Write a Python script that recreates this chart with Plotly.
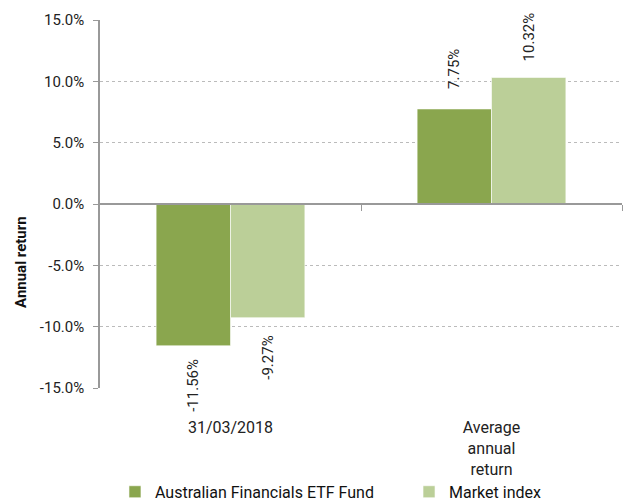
import plotly.graph_objects as go

categories = ["31/03/2018", "Average<br>annual<br>return"]
fund_name = "Australian Financials ETF Fund"
index_name = "Market index"
fund_values = [-11.56, 7.75]
index_values = [-9.27, 10.32]
y_ticks = [-15, -10, -5, 0, 5, 10, 15]
y_tick_text = ["%.1f%%" % v for v in y_ticks]

FONT = "Roboto, Arial, sans-serif"
dark = "#8AA64E"
light = "#BBCF98"
FS = 15

fig = go.Figure()
series = [(fund_name, fund_values, dark, -1, "legend"), (index_name, index_values, light, 1, "legend2")]
for name, vals, col, side, lg in series:
    fig.add_trace(go.Bar(
        x=categories, y=vals, name=name, legend=lg,
        marker=dict(color=col, line=dict(color="white", width=0.6)),
        cliponaxis=False,
    ))

annotations = []
for name, vals, col, side, lg in series:
    for c, v in zip(categories, vals):
        annotations.append(dict(
            x=c, y=v, xref="x", yref="y", text="%.2f%%" % v, showarrow=False,
            textangle=-90, xanchor="center", yanchor="middle",
            xshift=side * 37.5, yshift=40 if v > 0 else -40,
            font=dict(family=FONT, size=FS, color="#222"),
        ))
annotations.append(dict(
    text="<b>Annual return</b>", xref="paper", yref="paper", x=-0.151, y=0.343,
    textangle=-90, showarrow=False, xanchor="center", yanchor="middle",
    font=dict(family=FONT, size=FS, color="#111"),
))

legend_common = dict(orientation="h", xanchor="left", y=-0.236, yanchor="top",
                     font=dict(family=FONT, size=16, color="#111"), bgcolor="rgba(0,0,0,0)")

fig.update_layout(
    width=628, height=499,
    margin=dict(l=100, r=6, t=20, b=111, autoexpand=False),
    paper_bgcolor="white", plot_bgcolor="white",
    barmode="group", bargap=0.43, bargroupgap=0,
    font=dict(family=FONT, size=FS, color="#222"),
    showlegend=True,
    annotations=annotations,
    legend=dict(x=0.0287, **legend_common),
    legend2=dict(x=0.592, **legend_common),
    xaxis=dict(type="category", range=[-0.5, 1.5], showline=False, ticks="",
               showgrid=False, zeroline=False, ticklabelstandoff=28,
               tickfont=dict(size=16, color="#222")),
    xaxis2=dict(overlaying="x", anchor="free", position=0.5, range=[-0.5, 1.5],
                tickmode="array", tickvals=[0.5, 1.5], showticklabels=False,
                ticks="outside", ticklen=6, tickcolor="#999", showline=True,
                linecolor="#999", linewidth=1.5, showgrid=False, zeroline=False),
    yaxis=dict(range=[-15, 15], tickvals=y_ticks, ticktext=y_tick_text,
               showline=True, linecolor="#999", linewidth=1.5, ticks="outside",
               ticklen=5, tickcolor="#999", showgrid=True, gridcolor="#BBBBBB",
               griddash="dot", gridwidth=1, zeroline=False, ticklabelstandoff=6,
               tickfont=dict(size=FS, color="#222")),
)
# invisible helper trace so the zero-line axis (xaxis2) is drawn
fig.add_trace(go.Scatter(x=[None], y=[None], xaxis="x2", showlegend=False, hoverinfo="skip"))

fig.write_html("out.html", config={"displayModeBar": False},
               post_script="document.body.style.margin='0px';document.body.style.overflow='hidden';")
